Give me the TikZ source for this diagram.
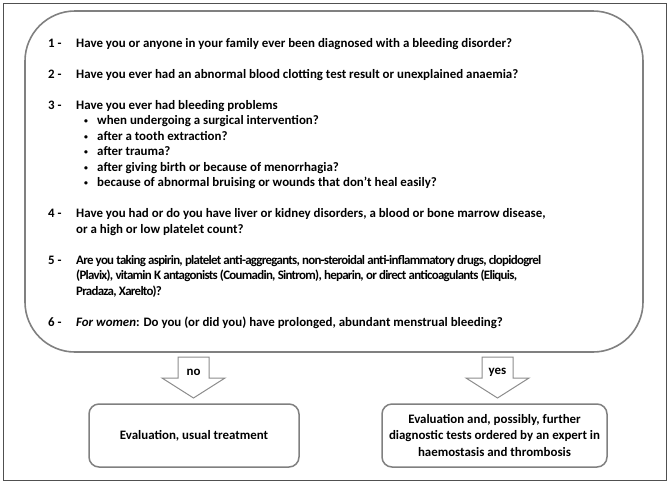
\documentclass[tikz,border=0pt]{standalone}
\usepackage{fontspec}
\setmainfont{Carlito}
\definecolor{framegray}{HTML}{505050}
\definecolor{boxgray}{HTML}{808080}
\definecolor{arrowgray}{HTML}{8C8C8C}
\newcommand{\smbullet}{\raisebox{0.8pt}{\scalebox{0.6}{•}}}
\newcommand{\condensed}[1]{{\addfontfeature{LetterSpace=-5.5}#1}}
\begin{document}
\begin{tikzpicture}[x=1pt,y=-1pt,
  font=\fontsize{12.9}{15.5}\selectfont\bfseries,
  frame/.style={draw=framegray, line width=1pt},
  bigbox/.style={draw=boxgray, line width=1.6pt, rounded corners=50pt, inner sep=0pt},
  smallbox/.style={draw=boxgray, line width=1.5pt, rounded corners=10pt, align=center, inner sep=0pt},
  blockarrow/.style={draw=arrowgray, line width=1pt, line join=miter},
  line/.style={anchor=base west, inner sep=0pt},
  lbl/.style={inner sep=0pt}]
\useasboundingbox (0,0) rectangle (669,483);
\draw[frame] (3,3) rectangle (666,480);
% main question box
\node[bigbox, minimum width=618pt, minimum height=341pt] (big) at (334,181.5) {};
% numbers
\node[line] (n1) at (48,47) {1 -};
\node[line] (n2) at (48,78) {2 -};
\node[line] (n3) at (48,109) {3 -};
\node[line] (n4) at (48,217.5) {4 -};
\node[line] (n5) at (48,264) {5 -};
\node[line] (n6) at (48,326) {6 -};
% questions
\node[line] (q1) at (76,47) {Have you or anyone in your family ever been diagnosed with a bleeding disorder?};
\node[line] (q2) at (76,78) {Have you ever had an abnormal blood clotting test result or unexplained anaemia?};
\node[line] (q3) at (76,109) {Have you ever had bleeding problems};
\node[line] (d1) at (84,124.5) {\smbullet};
\node[line] (b1) at (97,124.5) {when undergoing a surgical intervention?};
\node[line] (d2) at (84,140) {\smbullet};
\node[line] (b2) at (97,140) {after a tooth extraction?};
\node[line] (d3) at (84,155.5) {\smbullet};
\node[line] (b3) at (97,155.5) {after trauma?};
\node[line] (d4) at (84,171) {\smbullet};
\node[line] (b4) at (97,171) {after giving birth or because of menorrhagia?};
\node[line] (d5) at (84,186.5) {\smbullet};
\node[line] (b5) at (97,186.5) {because of abnormal bruising or wounds that don’t heal easily?};
\node[line] (q4a) at (76,217.5) {Have you had or do you have liver or kidney disorders, a blood or bone marrow disease,};
\node[line] (q4b) at (76,233) {or a high or low platelet count?};
\node[line] (q5a) at (76,264) {\condensed{Are you taking aspirin, platelet anti-aggregants, non-steroidal anti-inflammatory drugs, clopidogrel}};
\node[line] (q5b) at (76,279.5) {\condensed{(Plavix), vitamin K antagonists (Coumadin, Sintrom), heparin, or direct anticoagulants (Eliquis,}};
\node[line] (q5c) at (76,295) {\condensed{Pradaza, Xarelto)?}};
\node[line] (q6) at (76,326) {\textit{For women}: Do you (or did you) have prolonged, abundant menstrual bleeding?};
% result boxes
\node[smallbox, minimum width=210pt, minimum height=63pt] (nobox) at (194,435.5) {Evaluation, usual treatment};
\node[smallbox, minimum width=225pt, minimum height=63pt] (yesbox) at (494.5,435.5)
  {Evaluation and, possibly, further\\[1.3pt] diagnostic tests ordered by an expert in\\[1.3pt] haemostasis and thrombosis};
% block arrows
\coordinate (noA) at (193.5,357);
\coordinate (yesA) at (497.5,357);
\draw[blockarrow] (noA) ++(-15.5,0) -- ++(31,0) -- ++(0,21) -- ++(16,0) -- ++(-31.5,20) -- ++(-31.5,-20) -- ++(16,0) -- cycle;
\draw[blockarrow] (yesA) ++(-15.5,0) -- ++(31,0) -- ++(0,21) -- ++(16,0) -- ++(-31.5,20) -- ++(-31.5,-20) -- ++(16,0) -- cycle;
\node[lbl] (nolbl) at (193.5,372) {no};
\node[lbl] (yeslbl) at (497.5,372) {yes};
\end{tikzpicture}
\end{document}
